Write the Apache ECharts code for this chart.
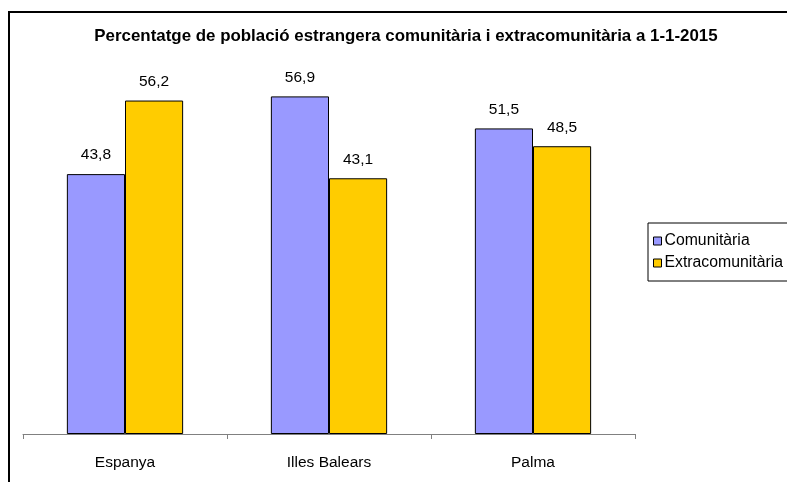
<!DOCTYPE html>
<html>
<head>
<meta charset="utf-8">
<script src="https://cdn.jsdelivr.net/npm/echarts@6/dist/echarts.min.js"></script>
<style>
html,body{margin:0;padding:0;overflow:hidden;background:#fff;width:787px;height:482px;}
#chart{width:820px;height:500px;}
</style>
</head>
<body>
<div id="chart"></div>
<script>
const titleText = 'Percentatge de població estrangera comunitària i extracomunitària a 1-1-2015';
const categories = ['Espanya', 'Illes Balears', 'Palma'];
const seriesNames = ['Comunitària', 'Extracomunitària'];
const comunitaria = [43.8, 56.9, 51.5];
const extracomunitaria = [56.2, 43.1, 48.5];

const FONT = "'Liberation Sans', Arial, sans-serif";
const chart = echarts.init(document.getElementById('chart'), null, {renderer: 'canvas'});
const fmt = p => String(p.value).replace('.', ',');

chart.setOption({
  animation: false,
  backgroundColor: '#fff',
  textStyle: {fontFamily: FONT, color: '#000'},
  title: {
    text: titleText,
    left: 406, top: 28,
    textAlign: 'center',
    padding: 0,
    textStyle: {fontFamily: FONT, fontSize: 16.9, fontWeight: 'bold', color: '#000'}
  },
  graphic: [{
    type: 'rect', silent: true, z: 100,
    shape: {x: 9, y: 12, width: 900, height: 700},
    style: {fill: 'none', stroke: '#000', lineWidth: 2}
  }],
  legend: {
    orient: 'vertical',
    left: 648, top: 223,
    padding: [10, 30, 10, 5],
    itemGap: 6,
    itemWidth: 8, itemHeight: 8,
    icon: 'rect',
    borderColor: '#000', borderWidth: 1,
    itemStyle: {borderColor: '#000', borderWidth: 1},
    textStyle: {fontFamily: FONT, fontSize: 15.8, color: '#000', lineHeight: 16, padding: [0,0,0,-2]},
    data: seriesNames
  },
  grid: {left: 23, top: 78, width: 612, height: 356, containLabel: false},
  xAxis: {
    type: 'category',
    data: categories,
    axisLine: {lineStyle: {color: '#808080', width: 1}},
    axisTick: {show: true, length: 5, lineStyle: {color: '#808080'}},
    axisLabel: {fontFamily: FONT, fontSize: 15.5, color: '#000', margin: 21}
  },
  yAxis: {
    type: 'value', min: 0, max: 60,
    show: false,
    splitLine: {show: false}
  },
  series: [
    {
      name: seriesNames[0], type: 'bar', data: comunitaria,
      barGap: '0%', barCategoryGap: '43%',
      itemStyle: {color: '#9999FF', borderColor: '#000', borderWidth: 1},
      label: {show: true, position: 'top', distance: 11, fontFamily: FONT, fontSize: 15.5, color: '#000', formatter: fmt}
    },
    {
      name: seriesNames[1], type: 'bar', data: extracomunitaria,
      barGap: '0%', barCategoryGap: '43%',
      itemStyle: {color: '#FFCC00', borderColor: '#000', borderWidth: 1},
      label: {show: true, position: 'top', distance: 11, fontFamily: FONT, fontSize: 15.5, color: '#000', formatter: fmt}
    }
  ]
});
</script>
</body>
</html>
